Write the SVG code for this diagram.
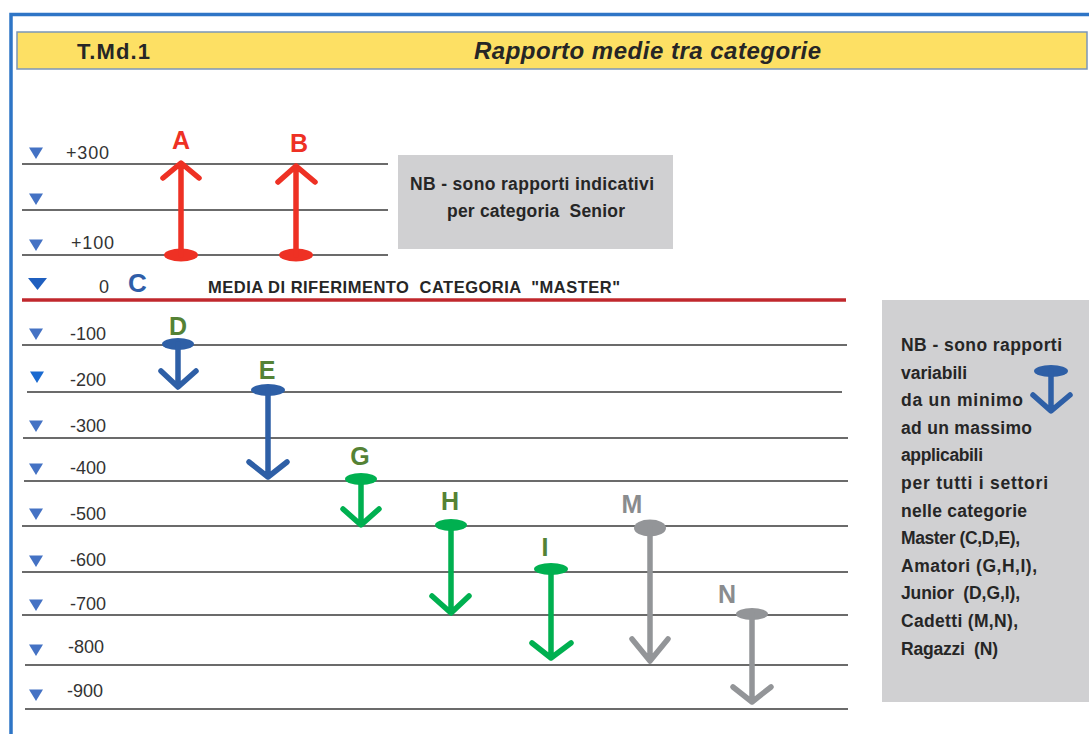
<svg xmlns="http://www.w3.org/2000/svg" xmlns:xlink="http://www.w3.org/1999/xlink" width="1089" height="734" viewBox="0 0 1089 734">
<style>
  text { font-family: "Liberation Sans", Arial, sans-serif; fill: #262626; white-space: pre; }
  .num { font-size: 18px; fill: #333333; }
  .b { font-weight: bold; }
  .let { font-size: 25px; font-weight: bold; text-anchor: middle; }
  .note { font-size: 17.5px; font-weight: bold; }
  .grid { stroke: #3a3a3a; stroke-width: 1.5; }
  .arr { fill: none; stroke-width: 5.5; stroke-linecap: round; stroke-linejoin: round; }
  .red { stroke: #ee3124; } .redf { fill: #ee3124; }
  .blue { stroke: #2e5fa6; } .bluef { fill: #2e5fa6; }
  .green { stroke: #00b050; } .greenf { fill: #00b050; }
  .gray { stroke: #939598; } .grayf { fill: #939598; }
  .tri { fill: #4472c4; }
</style>
<defs>
  <polygon id="tri" points="-7,-5.5 7,-5.5 0,6"/>
</defs>

<rect x="0" y="0" width="1089" height="734" fill="#ffffff"/>

<g id="frame">
  <path d="M11,734 V14.5 H1089" fill="none" stroke="#2e75c6" stroke-width="3.5"/>
</g>

<g id="header">
  <rect x="17" y="32" width="1070" height="37" fill="#fde064" stroke="#7b96b8" stroke-width="1.5"/>
  <text x="77" y="59" class="b" font-size="22" textLength="73">T.Md.1</text>
  <text x="474" y="59" class="b" font-size="24" font-style="italic" textLength="347">Rapporto medie tra categorie</text>
</g>

<g id="grid">
  <line class="grid" x1="22" y1="164" x2="388" y2="164"/>
  <line class="grid" x1="22" y1="210" x2="388" y2="210"/>
  <line class="grid" x1="22" y1="255" x2="388" y2="255"/>
  <line x1="22" y1="300" x2="846" y2="300" stroke="#c0282d" stroke-width="3.5"/>
  <line class="grid" x1="22" y1="345" x2="847" y2="345"/>
  <line class="grid" x1="27" y1="392" x2="842" y2="392"/>
  <line class="grid" x1="23" y1="438" x2="848" y2="438"/>
  <line class="grid" x1="24" y1="481" x2="848" y2="481"/>
  <line class="grid" x1="22" y1="526" x2="848" y2="526"/>
  <line class="grid" x1="22" y1="572" x2="848" y2="572"/>
  <line class="grid" x1="22" y1="615" x2="848" y2="615"/>
  <line class="grid" x1="25" y1="665" x2="848" y2="665"/>
  <line class="grid" x1="25" y1="709" x2="848" y2="709"/>
</g>

<g id="scale">
  <use href="#tri" xlink:href="#tri" class="tri" x="36" y="153"/>
  <use href="#tri" xlink:href="#tri" class="tri" x="36" y="199"/>
  <use href="#tri" xlink:href="#tri" class="tri" x="36" y="245"/>
  <polygon points="28,278 47,278 37.5,290" fill="#1f5fbf"/>
  <use href="#tri" xlink:href="#tri" class="tri" x="36" y="334"/>
  <use href="#tri" xlink:href="#tri" fill="#1a6ad0" x="37" y="377"/>
  <use href="#tri" xlink:href="#tri" class="tri" x="36" y="426"/>
  <use href="#tri" xlink:href="#tri" class="tri" x="36" y="469"/>
  <use href="#tri" xlink:href="#tri" class="tri" x="36" y="514"/>
  <use href="#tri" xlink:href="#tri" class="tri" x="36" y="561"/>
  <use href="#tri" xlink:href="#tri" class="tri" x="36" y="605"/>
  <use href="#tri" xlink:href="#tri" class="tri" x="36" y="650"/>
  <use href="#tri" xlink:href="#tri" class="tri" x="36" y="695"/>

  <text class="num" x="66" y="159" textLength="43">+300</text>
  <text class="num" x="71" y="249" textLength="43">+100</text>
  <text class="num" x="99" y="293">0</text>
  <text class="b" x="128" y="292" font-size="26" style="fill:#2f5ea8">C</text>
  <text class="num" x="70" y="340">-100</text>
  <text class="num" x="70" y="386">-200</text>
  <text class="num" x="70" y="432">-300</text>
  <text class="num" x="70" y="474">-400</text>
  <text class="num" x="70" y="520">-500</text>
  <text class="num" x="70" y="566">-600</text>
  <text class="num" x="70" y="610">-700</text>
  <text class="num" x="68" y="653">-800</text>
  <text class="num" x="67" y="697">-900</text>
  <text class="b" x="208" y="293" font-size="16.5" textLength="412">MEDIA DI RIFERIMENTO  CATEGORIA  "MASTER"</text>
</g>

<g id="connectors">
  <g id="arrow-A">
    <text class="let" x="181" y="149" style="fill:#ee3124">A</text>
    <ellipse class="redf" cx="181" cy="255" rx="17" ry="6.5"/>
    <path class="arr red" d="M181,255 V164 M163,178 L181,163 L199,178"/>
  </g>
  <g id="arrow-B">
    <text class="let" x="299" y="152" style="fill:#ee3124">B</text>
    <ellipse class="redf" cx="296" cy="255" rx="17" ry="6.5"/>
    <path class="arr red" d="M296,255 V166 M278,182 L296,166 L315,182"/>
  </g>
  <g id="arrow-D">
    <text class="let" x="178" y="335" style="fill:#548235">D</text>
    <ellipse class="bluef" cx="178" cy="344" rx="16" ry="6"/>
    <path class="arr blue" d="M178,344 V386 M161,371 L178,387 L196,371"/>
  </g>
  <g id="arrow-E">
    <text class="let" x="267" y="379" style="fill:#548235">E</text>
    <ellipse class="bluef" cx="268" cy="390" rx="17" ry="6"/>
    <path class="arr blue" d="M268,390 V476 M249,462 L268,477 L287,462"/>
  </g>
  <g id="arrow-G">
    <text class="let" x="360" y="465" style="fill:#548235">G</text>
    <ellipse class="greenf" cx="361" cy="479" rx="16" ry="6"/>
    <path class="arr green" d="M361,479 V524 M343,509 L361,525 L379,509"/>
  </g>
  <g id="arrow-H">
    <text class="let" x="450" y="510" style="fill:#548235">H</text>
    <ellipse class="greenf" cx="451" cy="525" rx="16" ry="6"/>
    <path class="arr green" d="M451,525 V612 M432,596 L451,613 L469,596"/>
  </g>
  <g id="arrow-I">
    <text class="let" x="545" y="556" style="fill:#548235">I</text>
    <ellipse class="greenf" cx="551" cy="569" rx="17" ry="6"/>
    <path class="arr green" d="M551,569 V657 M532,643 L551,658 L571,643"/>
  </g>
  <g id="arrow-M">
    <text class="let" x="632" y="513" style="fill:#8a8c8e">M</text>
    <ellipse class="grayf" cx="650" cy="528" rx="16" ry="8.5"/>
    <path class="arr gray" d="M650,528 V660 M632,639 L650,661 L668,639" stroke-width="6"/>
  </g>
  <g id="arrow-N">
    <text class="let" x="727" y="603" style="fill:#8a8c8e">N</text>
    <ellipse class="grayf" cx="752" cy="614" rx="16" ry="6"/>
    <path class="arr gray" d="M752,614 V701 M733,687 L752,702 L771,687"/>
  </g>
</g>

<g id="note-senior">
  <rect x="398" y="155" width="275" height="94" fill="#d0d0d2"/>
  <text class="b" x="410" y="190" font-size="17.5" textLength="244">NB - sono rapporti indicativi</text>
  <text class="b" x="447" y="217" font-size="17.5" textLength="178">per categoria  Senior</text>
</g>

<g id="note-variabili">
  <rect x="882" y="300" width="207" height="402" fill="#d0d0d2"/>
  <text class="note" x="901" y="351" textLength="161">NB - sono rapporti</text>
  <text class="note" x="901" y="378.6" textLength="66">variabili</text>
  <text class="note" x="901" y="406.2" textLength="122">da un minimo</text>
  <text class="note" x="901" y="433.8" textLength="131">ad un massimo</text>
  <text class="note" x="901" y="461.4" textLength="82">applicabili</text>
  <text class="note" x="901" y="489" textLength="147">per tutti i settori</text>
  <text class="note" x="901" y="516.6" textLength="126">nelle categorie</text>
  <text class="note" x="901" y="544.2" textLength="119">Master (C,D,E),</text>
  <text class="note" x="901" y="571.8" textLength="136">Amatori (G,H,I),</text>
  <text class="note" x="901" y="599.4" textLength="119">Junior  (D,G,I),</text>
  <text class="note" x="901" y="627" textLength="117">Cadetti (M,N),</text>
  <text class="note" x="901" y="654.6" textLength="97">Ragazzi  (N)</text>
  <ellipse class="bluef" cx="1051" cy="371" rx="17" ry="6"/>
  <path class="arr blue" d="M1051,371 V410 M1033,395 L1051,411 L1070,395"/>
</g>
</svg>
